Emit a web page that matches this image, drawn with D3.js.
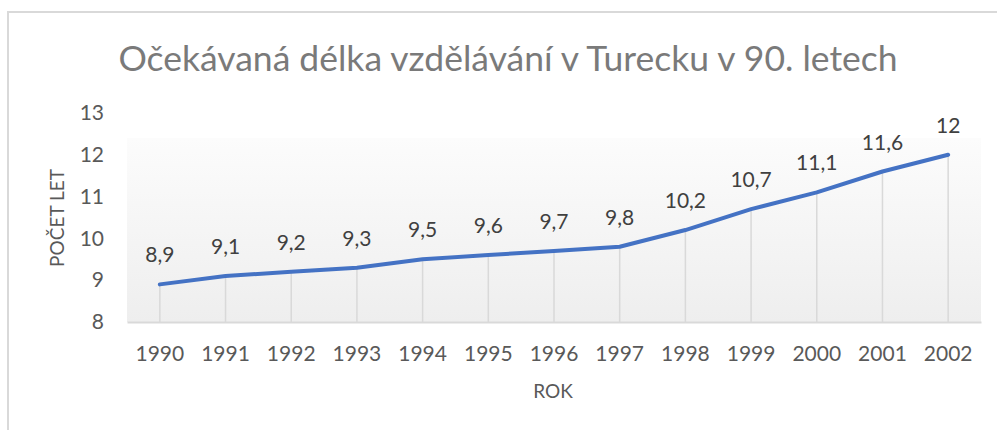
<!DOCTYPE html>
<html>
<head>
<meta charset="utf-8">
<script src="https://cdn.jsdelivr.net/npm/d3@7"></script>
<style>
  body { margin: 0; background: #fff; }
  svg { display: block; font-family: Lato, "Open Sans", sans-serif; }
</style>
</head>
<body>
<svg width="997" height="430"></svg>
<script>
// data
var years = ["1990", "1991", "1992", "1993", "1994", "1995", "1996", "1997", "1998", "1999", "2000", "2001", "2002"];
var values = [8.9, 9.1, 9.2, 9.3, 9.5, 9.6, 9.7, 9.8, 10.2, 10.7, 11.1, 11.6, 12];
var yTicks = [8, 9, 10, 11, 12, 13];

var svg = d3.select("svg");

// outer frame
svg.append("rect")
  .attr("x", 8).attr("y", 12)
  .attr("width", 1000).attr("height", 430)
  .attr("fill", "none")
  .attr("stroke", "#d9d9d9")
  .attr("stroke-width", 2);

var xScale = d3.scaleBand().domain(years).range([127, 981]).padding(0);
var yScale = d3.scaleLinear().domain([8, 13]).range([322, 113]);
var xc = function(d) { return xScale(d) + xScale.bandwidth() / 2; };

// plot area gradient
var grad = svg.append("defs").append("linearGradient")
  .attr("id", "bg").attr("x1", 0).attr("y1", 0).attr("x2", 0).attr("y2", 1);
grad.append("stop").attr("offset", "0%").attr("stop-color", "#fcfcfc");
grad.append("stop").attr("offset", "100%").attr("stop-color", "#eeeeee");

svg.append("rect")
  .attr("x", 127).attr("y", 138)
  .attr("width", 854).attr("height", 322 - 138)
  .attr("fill", "url(#bg)");

// title
svg.append("text")
  .attr("x", 508).attr("y", 71)
  .attr("text-anchor", "middle")
  .style("font-size", "35.5px")
  .style("fill", "#7a7a7a")
  .text("Očekávaná délka vzdělávání v Turecku v 90. letech");

// drop lines
svg.append("g")
  .selectAll("line")
  .data(values)
  .enter()
  .append("line")
  .attr("x1", function(d, i) { return xc(years[i]); })
  .attr("x2", function(d, i) { return xc(years[i]); })
  .attr("y1", function(d) { return yScale(d); })
  .attr("y2", yScale(8))
  .attr("stroke", "#d9d9d9")
  .attr("stroke-width", 1.5);

// axes
var gx = svg.append("g")
  .attr("transform", "translate(0," + yScale(8) + ")")
  .call(d3.axisBottom(xScale).tickSize(0).tickPadding(24));
gx.select(".domain").attr("stroke", "#d9d9d9").attr("stroke-width", 2);
gx.selectAll("text").style("font-size", "21px").style("fill", "#595959").style("font-family", "Lato, sans-serif");

var gy = svg.append("g")
  .attr("transform", "translate(104,0)")
  .call(d3.axisLeft(yScale).tickValues(yTicks).tickFormat(d3.format("d")).tickSize(0).tickPadding(0));
gy.select(".domain").remove();
gy.selectAll("text").style("font-size", "21px").style("fill", "#595959").style("font-family", "Lato, sans-serif");

// axis titles
svg.append("text")
  .attr("x", 553).attr("y", 398)
  .attr("text-anchor", "middle")
  .style("font-size", "19px")
  .style("fill", "#595959")
  .text("ROK");

svg.append("text")
  .attr("text-anchor", "middle")
  .attr("transform", "translate(64,218)rotate(-90)")
  .style("font-size", "19px")
  .style("fill", "#595959")
  .text("POČET LET");

// line
var line = d3.line()
  .x(function(d, i) { return xc(years[i]); })
  .y(function(d) { return yScale(d); });

svg.append("path")
  .datum(values)
  .attr("d", line)
  .style("fill", "none")
  .style("stroke", "#4472C4")
  .style("stroke-width", 4)
  .style("stroke-linejoin", "round")
  .style("stroke-linecap", "round");

// data labels
svg.append("g")
  .selectAll("text")
  .data(values)
  .enter()
  .append("text")
  .attr("x", function(d, i) { return xc(years[i]); })
  .attr("y", function(d) { return yScale(d) - 22; })
  .attr("text-anchor", "middle")
  .style("font-size", "21px")
  .style("fill", "#404040")
  .text(function(d) { return String(d).replace(".", ","); });
</script>
</body>
</html>
